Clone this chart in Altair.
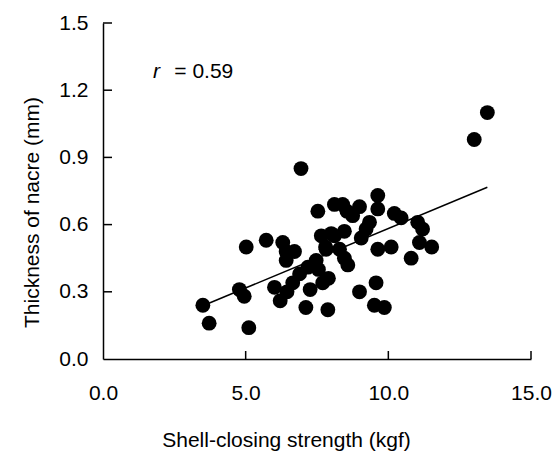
import altair as alt
import pandas as pd

# Shell-closing strength (kgf) and nacre thickness (mm) per specimen
strength = [
    3.50, 3.72, 5.11, 5.02, 4.78, 4.95, 5.72, 6.30, 6.42, 6.42,
    6.71, 6.94, 6.01, 6.21, 6.45, 6.65, 6.89, 7.18, 7.11, 7.26,
    7.47, 7.53, 7.65, 7.70, 7.90, 7.88, 8.00, 7.82, 8.11, 8.40,
    8.11, 8.46, 8.29, 8.46, 8.58, 8.75, 8.55, 8.99, 8.99, 9.05,
    9.22, 9.34, 9.63, 9.63, 9.63, 9.57, 9.51, 9.86, 10.10, 10.21,
    10.45, 10.80, 11.03, 11.20, 11.09, 11.52, 13.01, 13.47, 7.55, 7.80,
]
nacre = [
    0.24, 0.16, 0.14, 0.50, 0.31, 0.28, 0.53, 0.52, 0.48, 0.44,
    0.48, 0.85, 0.32, 0.26, 0.30, 0.34, 0.38, 0.41, 0.23, 0.31,
    0.44, 0.66, 0.55, 0.34, 0.36, 0.22, 0.56, 0.49, 0.69, 0.69,
    0.55, 0.57, 0.49, 0.45, 0.42, 0.64, 0.66, 0.68, 0.30, 0.54,
    0.58, 0.61, 0.73, 0.67, 0.49, 0.34, 0.24, 0.23, 0.50, 0.65,
    0.63, 0.45, 0.61, 0.58, 0.52, 0.50, 0.98, 1.10, 0.40, 0.50,
]

# Least-squares fit line
fit_slope = 0.0531
fit_intercept = 0.0516

x_ticks = [5.0, 10.0, 15.0]
y_ticks = [0.3, 0.6, 0.9, 1.2, 1.5]

FONT = "Liberation Sans"
FS = 21

pts = pd.DataFrame({"strength": strength, "nacre": nacre})
x0, x1 = min(strength), max(strength)
fit = pd.DataFrame({
    "strength": [x0, x1],
    "nacre": [fit_intercept + fit_slope * x0, fit_intercept + fit_slope * x1],
})

xscale = alt.Scale(domain=[0, 15], nice=False, zero=False)
yscale = alt.Scale(domain=[0, 1.5], nice=False, zero=False)

xaxis = alt.Axis(
    values=[0, 5, 10, 15], format=".1f", ticks=False, grid=False,
    domainColor="black", domainWidth=1.5, labelFlush=False, labelOverlap=False,
    labelFont=FONT, labelFontSize=FS, labelColor="black", labelPadding=23,
    title="Shell-closing strength (kgf)", titleFont=FONT, titleFontSize=FS,
    titleFontWeight="normal", titleColor="black",
    titleX=183, titleY=87, titleAlign="center", titleBaseline="alphabetic",
)
yaxis = alt.Axis(
    values=[0, 0.3, 0.6, 0.9, 1.2, 1.5], format=".1f", ticks=False, grid=False,
    domainColor="black", domainWidth=1.5, labelFlush=False, labelOverlap=False,
    labelFont=FONT, labelFontSize=FS, labelColor="black", labelPadding=15,
    title="Thickness of nacre (mm)", titleFont=FONT, titleFontSize=FS,
    titleFontWeight="normal", titleColor="black",
    titleAngle=270, titleX=-65, titleY=189, titleAlign="center", titleBaseline="alphabetic",
)

points = alt.Chart(pts).mark_circle(size=220, color="black", opacity=1).encode(
    x=alt.X("strength:Q", scale=xscale, axis=xaxis),
    y=alt.Y("nacre:Q", scale=yscale, axis=yaxis),
)

line = alt.Chart(fit).mark_line(color="black", strokeWidth=1.5).encode(
    x=alt.X("strength:Q", scale=xscale),
    y=alt.Y("nacre:Q", scale=yscale),
)

# Inward-pointing tick marks
xt = alt.Chart(pd.DataFrame({"v": x_ticks})).mark_rule(color="black", strokeWidth=1.5).encode(
    x=alt.X("v:Q", scale=xscale), y=alt.value(336), y2=alt.value(328),
)
yt = alt.Chart(pd.DataFrame({"v": y_ticks})).mark_rule(color="black", strokeWidth=1.5).encode(
    y=alt.Y("v:Q", scale=yscale), x=alt.value(0), x2=alt.value(9),
)

r_sym = alt.Chart(pd.DataFrame({"x": [1.75], "y": [1.28], "t": ["r"]})).mark_text(
    font=FONT, fontSize=FS, fontStyle="italic", align="left", baseline="middle", color="black"
).encode(x=alt.X("x:Q", scale=xscale), y=alt.Y("y:Q", scale=yscale), text="t:N")
r_val = alt.Chart(pd.DataFrame({"x": [2.5], "y": [1.28], "t": ["= 0.59"]})).mark_text(
    font=FONT, fontSize=FS, align="left", baseline="middle", color="black"
).encode(x=alt.X("x:Q", scale=xscale), y=alt.Y("y:Q", scale=yscale), text="t:N")

chart = (
    alt.layer(line, points, xt, yt, r_sym, r_val)
    .properties(
        width=428, height=336,
        autosize=alt.AutoSizeParams(type="none"),
        padding={"left": 103, "top": 23, "right": 25, "bottom": 92},
        background="white",
    )
    .configure_view(stroke=None)
)

chart.save("out.html", embed_options={"renderer": "svg", "actions": False})
